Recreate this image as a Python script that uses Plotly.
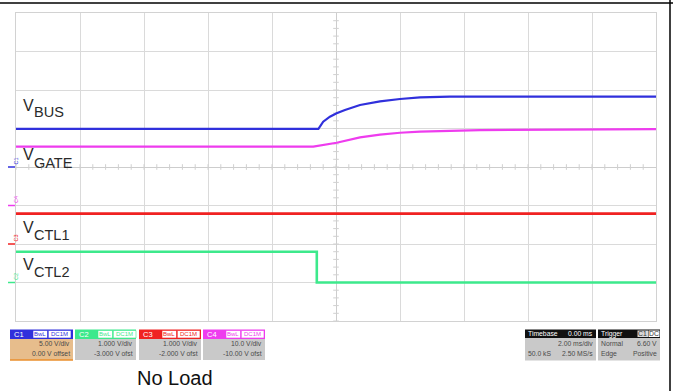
import numpy as np
import plotly.graph_objects as go

# ---------------- data (time in ms, values in volts) ----------------
t_bus = [-10, -0.55, -0.4, -0.19, 0.02, 0.28, 0.75, 1.375, 2.0, 2.625, 3.56, 10]
v_bus = [4.95, 4.95, 5.88, 6.53, 6.97, 7.4, 8.05, 8.53, 8.83, 9.05, 9.13, 9.13]

t_gate = [-10, -0.71, 0.02, 0.75, 1.375, 2.0, 2.625, 3.25, 3.875, 4.5, 10]
v_gate = [15.3, 15.3, 16.3, 17.7, 18.4, 18.9, 19.2, 19.35, 19.4, 19.6, 19.85]

t_ctl1 = [-10, 10]
v_ctl1 = [0.79, 0.79]

t_ctl2 = [-10, -0.6, -0.6, 10]
v_ctl2 = [0.8, 0.8, 0.0, 0.0]

# channel settings: volts/div and offset (V)
ch_scale = {"C1": 5.0, "C2": 1.0, "C3": 1.0, "C4": 10.0}
ch_offset = {"C1": 0.0, "C2": -3.0, "C3": -2.0, "C4": -10.0}
trigger_level = 6.60  # V on C1

ch_vdiv_text = ["5.00 V/div", "1.000 V/div", "1.000 V/div", "10.0 V/div"]
ch_ofst_text = ["0.00 V offset", "-3.000 V ofst", "-2.000 V ofst", "-10.00 V ofst"]
ch_names = ["C1", "C2", "C3", "C4"]

timebase_text = ["Timebase", "0.00 ms", "2.00 ms/div", "50.0 kS", "2.50 MS/s"]
trigger_text = ["Trigger", "C1", "DC", "Normal", "6.60 V", "Edge", "Positive"]

# ---------------- styling ----------------
col = {"C1": "#3030dc", "C2": "#3de98c", "C3": "#f02222", "C4": "#ee3cee"}
W, H = 673, 391
L, R, T, B = 16, 17, 13, 70
PW, PH = W - L - R, H - T - B


def px(x):
    return (x - L) / PW


def py(y):
    return (H - B - y) / PH


def to_div(ch, v):
    return [(vv + ch_offset[ch]) / ch_scale[ch] for vv in v]


fig = go.Figure()

# minor ticks on the centre cross
mx = np.arange(-10, 10.001, 0.4)
my = np.arange(-4, 4.001, 0.2)
fig.add_trace(go.Scatter(x=mx, y=np.zeros_like(mx), mode="markers",
                         marker=dict(symbol="line-ns", size=4, line=dict(width=1, color="#d0d0d0")),
                         hoverinfo="skip", showlegend=False))
fig.add_trace(go.Scatter(x=np.zeros_like(my), y=my, mode="markers",
                         marker=dict(symbol="line-ew", size=4, line=dict(width=1, color="#d0d0d0")),
                         hoverinfo="skip", showlegend=False))

traces = [("C1", t_bus, v_bus, 2.2), ("C4", t_gate, v_gate, 2.2),
          ("C3", t_ctl1, v_ctl1, 2.6), ("C2", t_ctl2, v_ctl2, 2.6)]
for ch, t, v, w in traces:
    fig.add_trace(go.Scatter(x=t, y=to_div(ch, v), mode="lines",
                             line=dict(color=col[ch], width=w),
                             hoverinfo="skip", showlegend=False))

# trigger level marker (right) and trigger time marker (bottom)
fig.add_trace(go.Scatter(x=[10.12], y=[(trigger_level + ch_offset["C1"]) / ch_scale["C1"]],
                         mode="markers", marker=dict(symbol="triangle-left", size=6, color="#3030dc"),
                         cliponaxis=False, hoverinfo="skip", showlegend=False))
fig.add_trace(go.Scatter(x=[0], y=[-4.13], mode="markers",
                         marker=dict(symbol="triangle-up", size=6, color="#3030dc"),
                         cliponaxis=False, hoverinfo="skip", showlegend=False))

shapes = []
ann = []

# outer black border (top and right)
shapes.append(dict(type="line", xref="paper", yref="paper", x0=px(0), x1=px(W), y0=py(3), y1=py(3),
                   line=dict(color="#000000", width=1.5)))
shapes.append(dict(type="line", xref="paper", yref="paper", x0=px(670), x1=px(670), y0=py(0), y1=py(H),
                   line=dict(color="#000000", width=1.5)))

# channel ground markers on the left
for ch in ch_names:
    g = ch_offset[ch] / ch_scale[ch]
    shapes.append(dict(type="line", xref="paper", yref="y", x0=px(8), x1=px(15), y0=g, y1=g,
                       line=dict(color=col[ch], width=1.5)))
    ann.append(dict(text=ch, xref="paper", yref="y", x=px(10.5), y=g, yshift=6, showarrow=False,
                    textangle=-90, font=dict(size=5.5, color=col[ch], family="Liberation Sans, Arial")))

# trace labels
labels = [("BUS", 105.9, 112.2), ("GATE", 154.5, 162.8), ("CTL1", 227.5, 234.7), ("CTL2", 264.2, 272.2)]
for sub, yv, ys in labels:
    ann.append(dict(text="V", xref="paper", yref="paper", x=px(21), y=py(yv), xanchor="left",
                    yanchor="middle", showarrow=False,
                    font=dict(size=16, color="#2a2a2a", family="Liberation Sans, Arial")))
    ann.append(dict(text=sub, xref="paper", yref="paper", x=px(32), y=py(ys), xanchor="left",
                    yanchor="middle", showarrow=False,
                    font=dict(size=14.5, color="#2a2a2a", family="Liberation Sans, Arial")))

# channel info boxes
FONT = "Liberation Sans, Arial"
box_x = [(10, 73), (75, 136), (139, 201), (203, 265)]
hy0, hy1, by1 = 329.5, 339, 360
for i, ch in enumerate(ch_names):
    x0, x1 = box_x[i]
    body = "#e7bd8c" if ch == "C1" else "#c9c9c9"
    shapes.append(dict(type="rect", xref="paper", yref="paper", x0=px(x0), x1=px(x1), y0=py(hy0), y1=py(hy1),
                       fillcolor=col[ch], line=dict(width=0)))
    shapes.append(dict(type="rect", xref="paper", yref="paper", x0=px(x0), x1=px(x1), y0=py(hy1), y1=py(by1),
                       fillcolor=body, line=dict(width=0)))
    if ch == "C1":
        shapes.append(dict(type="line", xref="paper", yref="paper", x0=px(x0), x1=px(x1), y0=py(by1), y1=py(by1),
                           line=dict(color="#ea8f2c", width=1.5)))
    for bx0, bx1, txt in [(x0 + 23, x0 + 37.5, "BwL"), (x0 + 38.3, x0 + 61, "DC1M")]:
        shapes.append(dict(type="rect", xref="paper", yref="paper", x0=px(bx0), x1=px(bx1),
                           y0=py(hy0 + 1), y1=py(hy1 - 1), fillcolor="#ffffff",
                           line=dict(width=0.6, color=col[ch])))
        ann.append(dict(text=txt, xref="paper", yref="paper", x=px((bx0 + bx1) / 2), y=py(334.3),
                        xanchor="center", yanchor="middle", showarrow=False,
                        font=dict(size=6, color=col[ch], family=FONT)))
    ann.append(dict(text=ch, xref="paper", yref="paper", x=px(x0 + 2), y=py(334.5), xanchor="left",
                    yanchor="middle", showarrow=False, font=dict(size=7.5, color="#ffffff", family=FONT)))
    ann.append(dict(text=ch_vdiv_text[i], xref="paper", yref="paper", x=px(x1 - 1), y=py(343.5),
                    xanchor="right", yanchor="middle", showarrow=False,
                    font=dict(size=6.8, color="#4a4a4a", family=FONT)))
    ann.append(dict(text=ch_ofst_text[i], xref="paper", yref="paper", x=px(x1 - 1), y=py(353.3),
                    xanchor="right", yanchor="middle", showarrow=False,
                    font=dict(size=6.8, color="#4a4a4a", family=FONT)))

# timebase box
tx0, tx1 = 525, 596
shapes.append(dict(type="rect", xref="paper", yref="paper", x0=px(tx0), x1=px(tx1), y0=py(329.5), y1=py(338),
                   fillcolor="#111111", line=dict(width=0)))
shapes.append(dict(type="rect", xref="paper", yref="paper", x0=px(tx0), x1=px(tx1), y0=py(338), y1=py(360.5),
                   fillcolor="#c9c9c9", line=dict(width=0)))
tb_items = [(timebase_text[0], tx0 + 1, "left", 333.8, "#ffffff"),
            (timebase_text[1], tx1 - 1, "right", 333.8, "#ffffff"),
            (timebase_text[2], tx1 - 1, "right", 343.5, "#4a4a4a"),
            (timebase_text[3], tx0 + 1, "left", 353.5, "#4a4a4a"),
            (timebase_text[4], tx1 - 1, "right", 353.5, "#4a4a4a")]
for txt, x, xa, y, c in tb_items:
    ann.append(dict(text=txt, xref="paper", yref="paper", x=px(x), y=py(y), xanchor=xa, yanchor="middle",
                    showarrow=False, font=dict(size=6.8, color=c, family=FONT)))

# trigger box
gx0, gx1 = 598, 660
shapes.append(dict(type="rect", xref="paper", yref="paper", x0=px(gx0), x1=px(gx1), y0=py(329.5), y1=py(338),
                   fillcolor="#111111", line=dict(width=0)))
shapes.append(dict(type="rect", xref="paper", yref="paper", x0=px(gx0), x1=px(gx1), y0=py(338), y1=py(360.5),
                   fillcolor="#c9c9c9", line=dict(width=0)))
shapes.append(dict(type="rect", xref="paper", yref="paper", x0=px(637.5), x1=px(648), y0=py(330.5), y1=py(337),
                   fillcolor="#d8d8d8", line=dict(width=0)))
shapes.append(dict(type="rect", xref="paper", yref="paper", x0=px(648.5), x1=px(659.5), y0=py(330.5), y1=py(337),
                   fillcolor="#ffffff", line=dict(width=0)))
tg_items = [(trigger_text[0], gx0 + 1, "left", 333.8, "#ffffff"),
            (trigger_text[1], 642.7, "center", 333.8, "#333333"),
            (trigger_text[2], 654, "center", 333.8, "#333333"),
            (trigger_text[3], gx0 + 1, "left", 343.5, "#4a4a4a"),
            (trigger_text[4], gx1 - 1, "right", 343.5, "#4a4a4a"),
            (trigger_text[5], gx0 + 1, "left", 353.5, "#4a4a4a"),
            (trigger_text[6], gx1 - 1, "right", 353.5, "#4a4a4a")]
for txt, x, xa, y, c in tg_items:
    ann.append(dict(text=txt, xref="paper", yref="paper", x=px(x), y=py(y), xanchor=xa, yanchor="middle",
                    showarrow=False, font=dict(size=6.8, color=c, family=FONT)))

# caption
ann.append(dict(text="No Load", xref="paper", yref="paper", x=px(175), y=py(377.8), xanchor="center",
                yanchor="middle", showarrow=False, font=dict(size=20, color="#111111", family=FONT)))

axis_common = dict(showgrid=True, gridcolor="#dadada", gridwidth=1, zeroline=True, zerolinecolor="#cdcdcd",
                   zerolinewidth=1, showline=True, linecolor="#d2d2d2", linewidth=1, mirror=True,
                   showticklabels=False, ticks="", fixedrange=True)
fig.update_layout(
    width=W, height=H, autosize=False,
    margin=dict(l=L, r=R, t=T, b=B, pad=0),
    paper_bgcolor="#ffffff", plot_bgcolor="#ffffff",
    xaxis=dict(range=[-10, 10], dtick=2, tick0=0, **axis_common),
    yaxis=dict(range=[-4, 4], dtick=1, tick0=0, **axis_common),
    shapes=shapes, annotations=ann, showlegend=False,
)

fig.write_html("out.html", config={"displayModeBar": False, "staticPlot": True},
               post_script="document.body.style.margin='0';document.body.style.overflow='hidden';")
